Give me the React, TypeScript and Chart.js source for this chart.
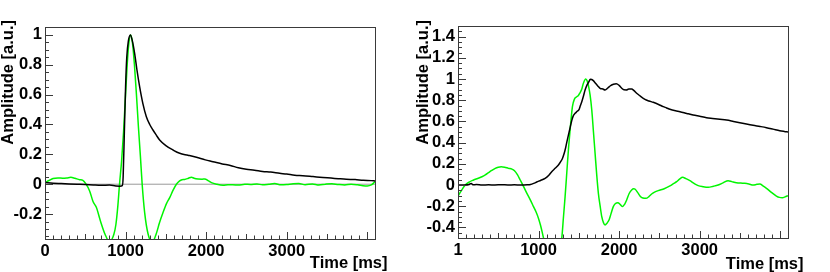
import React, { useEffect, useRef } from 'react';
import { Chart, registerables } from 'chart.js';

Chart.register(...registerables);

// ---------- Data (left panel) ----------
const LEFT_BLACK_T = [0, 100, 200, 300, 400, 500, 600, 700, 800, 880, 930, 960, 970, 985, 1000, 1015, 1035, 1060, 1080, 1113, 1140, 1175, 1215, 1258, 1300, 1340, 1380, 1423, 1500, 1589, 1672, 1775, 1880, 1990, 2085, 2200, 2300, 2400, 2499, 2600, 2700, 2800, 2913, 3000, 3100, 3200, 3326, 3450, 3550, 3640, 3740, 3850, 3950, 4050, 4096];
const LEFT_BLACK_V = [0.011, 0.006, 0.004, 0.002, 0.0, -0.002, -0.005, -0.007, -0.006, -0.012, -0.013, -0.01, 0.05, 0.35, 0.65, 0.85, 0.96, 1.0, 0.97, 0.875, 0.77, 0.652, 0.54, 0.452, 0.4, 0.363, 0.33, 0.296, 0.258, 0.229, 0.207, 0.194, 0.18, 0.163, 0.151, 0.136, 0.126, 0.11, 0.1, 0.094, 0.085, 0.081, 0.073, 0.068, 0.06, 0.057, 0.051, 0.045, 0.041, 0.037, 0.033, 0.031, 0.026, 0.024, 0.022];

const LEFT_GREEN_T = [0, 50, 100, 160, 220, 270, 320, 370, 430, 470, 510, 554, 596, 637, 690, 745, 800, 855, 880, 905, 925, 950, 975, 1000, 1020, 1040, 1062, 1085, 1110, 1135, 1160, 1185, 1206, 1237, 1278, 1330, 1382, 1420, 1465, 1508, 1548, 1590, 1631, 1671, 1700, 1733, 1780, 1817, 1850, 1900, 1950, 1982, 2030, 2065, 2130, 2209, 2270, 2330, 2400, 2480, 2550, 2630, 2700, 2780, 2850, 2930, 3000, 3080, 3150, 3230, 3320, 3400, 3480, 3560, 3640, 3720, 3800, 3880, 3947, 4000, 4050, 4096];
const LEFT_GREEN_V = [0.011, 0.025, 0.038, 0.042, 0.04, 0.042, 0.046, 0.04, 0.03, 0.026, 0.0, -0.045, -0.116, -0.155, -0.25, -0.335, -0.385, -0.335, -0.27, -0.14, 0.0, 0.15, 0.35, 0.6, 0.8, 0.94, 1.0, 0.95, 0.8, 0.6, 0.38, 0.18, 0.0, -0.19, -0.33, -0.39, -0.33, -0.26, -0.19, -0.13, -0.09, -0.04, 0.0, 0.022, 0.03, 0.032, 0.04, 0.047, 0.04, 0.035, 0.034, 0.035, 0.022, 0.011, 0.0, -0.007, -0.004, -0.003, -0.006, 0.0, -0.002, 0.002, -0.004, 0.0, 0.004, -0.004, -0.002, 0.003, 0.004, -0.003, 0.002, -0.005, 0.0, 0.003, -0.002, -0.005, 0.0, -0.004, -0.01, -0.012, -0.005, 0.017];

// ---------- Data (right panel) ----------
const RIGHT_BLACK_T = [1, 80, 140, 165, 185, 230, 300, 380, 460, 540, 620, 700, 780, 860, 900, 940, 978, 1030, 1082, 1125, 1164, 1210, 1247, 1275, 1297, 1315, 1330, 1350, 1371, 1392, 1413, 1430, 1454, 1480, 1504, 1520, 1537, 1558, 1578, 1600, 1619, 1645, 1660, 1680, 1702, 1735, 1764, 1800, 1826, 1860, 1888, 1930, 1965, 2000, 2030, 2060, 2090, 2120, 2156, 2185, 2218, 2260, 2321, 2370, 2424, 2490, 2548, 2590, 2631, 2700, 2755, 2840, 2919, 3000, 3085, 3160, 3250, 3333, 3420, 3498, 3580, 3663, 3750, 3829, 3910, 3994, 4050, 4096];
const RIGHT_BLACK_V = [0.0, 0.0, 0.005, 0.015, 0.003, 0.004, 0.0, 0.002, 0.0, 0.003, 0.0, 0.002, 0.0, 0.002, 0.005, 0.015, 0.028, 0.045, 0.063, 0.09, 0.126, 0.16, 0.189, 0.22, 0.25, 0.29, 0.33, 0.4, 0.47, 0.54, 0.61, 0.65, 0.676, 0.695, 0.714, 0.75, 0.786, 0.84, 0.896, 0.94, 0.965, 0.997, 0.995, 0.985, 0.965, 0.935, 0.912, 0.905, 0.896, 0.915, 0.934, 0.95, 0.955, 0.94, 0.915, 0.898, 0.897, 0.905, 0.906, 0.89, 0.865, 0.84, 0.808, 0.793, 0.78, 0.76, 0.739, 0.727, 0.714, 0.7, 0.692, 0.675, 0.66, 0.648, 0.635, 0.628, 0.62, 0.613, 0.6, 0.588, 0.575, 0.563, 0.552, 0.541, 0.527, 0.512, 0.505, 0.5];

const RIGHT_GREEN_T = [1, 45, 91, 140, 194, 245, 298, 340, 380, 420, 463, 500, 537, 580, 628, 670, 702, 740, 773, 815, 856, 898, 938, 970, 1000, 1025, 1049, 1080, 1130, 1185, 1240, 1289, 1310, 1330, 1345, 1359, 1375, 1392, 1421, 1446, 1470, 1495, 1515, 1535, 1557, 1586, 1605, 1619, 1640, 1661, 1682, 1702, 1722, 1743, 1765, 1785, 1806, 1826, 1850, 1875, 1900, 1928, 1955, 1985, 2015, 2044, 2070, 2094, 2125, 2156, 2180, 2200, 2230, 2259, 2295, 2333, 2370, 2404, 2440, 2486, 2560, 2631, 2675, 2714, 2750, 2788, 2830, 2879, 2930, 2982, 3040, 3106, 3170, 3229, 3290, 3353, 3400, 3457, 3510, 3560, 3610, 3663, 3710, 3746, 3790, 3829, 3890, 3952, 3990, 4026, 4060, 4096];
const RIGHT_GREEN_V = [-0.104, -0.05, 0.0, 0.028, 0.047, 0.062, 0.078, 0.095, 0.116, 0.137, 0.157, 0.168, 0.173, 0.168, 0.157, 0.15, 0.135, 0.095, 0.047, -0.015, -0.079, -0.14, -0.204, -0.255, -0.315, -0.38, -0.456, -0.56, -0.72, -0.78, -0.7, -0.5, -0.3, -0.11, 0.05, 0.205, 0.37, 0.52, 0.74, 0.81, 0.83, 0.845, 0.87, 0.9, 0.96, 1.0, 0.98, 0.94, 0.85, 0.708, 0.5, 0.299, 0.1, -0.079, -0.2, -0.299, -0.355, -0.377, -0.36, -0.33, -0.27, -0.204, -0.175, -0.167, -0.185, -0.203, -0.18, -0.142, -0.08, -0.047, -0.036, -0.04, -0.07, -0.104, -0.123, -0.126, -0.11, -0.085, -0.068, -0.053, -0.035, -0.009, 0.012, 0.031, 0.055, 0.072, 0.06, 0.041, 0.015, -0.006, -0.016, -0.022, -0.012, 0.0, 0.02, 0.041, 0.032, 0.022, 0.018, 0.016, 0.01, 0.0, 0.006, 0.009, -0.01, -0.031, -0.07, -0.104, -0.117, -0.12, -0.112, -0.1];

// ---------- Axes ----------
const LEFT_X_TICKS = [0, 1000, 2000, 3000];
const RIGHT_X_TICKS = [1, 1000, 2000, 3000];
const LEFT_Y_TICKS = [-0.2, 0, 0.2, 0.4, 0.6, 0.8, 1];
const RIGHT_Y_TICKS = [-0.4, -0.2, 0, 0.2, 0.4, 0.6, 0.8, 1, 1.2, 1.4];
const Y_TITLE = 'Amplitude [a.u.]';
const X_TITLE = 'Time [ms]';

const FONT_FAMILY = '"Liberation Sans", Arial, Helvetica, sans-serif';
const FONT_SIZE = 16.5;
const GREEN = 'rgb(0,245,0)';

function pts(t: number[], v: number[]) {
  return t.map((x, i) => ({ x, y: v[i] }));
}

const frameTicksPlugin = {
  id: 'frameTicks',
  afterDatasetsDraw(chart: any, _args: any, opts: any) {
    const { ctx, chartArea: a, scales } = chart;
    const xs = scales.x;
    const ys = scales.y;
    ctx.save();
    ctx.strokeStyle = '#3a3a3a';
    ctx.lineWidth = 1;
    ctx.beginPath();
    // x ticks (inward from bottom)
    const xmin = xs.min, xmax = xs.max;
    for (let k = Math.ceil(xmin / 100); k * 100 <= xmax; k++) {
      const v = k * 100;
      const len = v % 1000 === 0 ? 7 : v % 500 === 0 ? 5 : 3.5;
      const px = Math.round(xs.getPixelForValue(v)) + 0.5;
      ctx.moveTo(px, a.bottom);
      ctx.lineTo(px, a.bottom - len);
    }
    // y ticks (inward from left)
    const ymin = ys.min, ymax = ys.max;
    for (let k = Math.ceil(ymin / 0.05 - 1e-6); k * 0.05 <= ymax + 1e-9; k++) {
      const v = k * 0.05;
      const major = Math.abs(Math.round(k / 4) * 4 - k) < 1e-9;
      const len = major ? 8 : 4;
      const py = Math.round(ys.getPixelForValue(v)) + 0.5;
      ctx.moveTo(a.left, py);
      ctx.lineTo(a.left + len, py);
    }
    ctx.stroke();
    // frame
    ctx.strokeRect(a.left + 0.5, a.top + 0.5, a.right - a.left, a.bottom - a.top);
    // axis titles
    ctx.fillStyle = '#000';
    ctx.font = `bold ${FONT_SIZE}px ${FONT_FAMILY}`;
    ctx.textBaseline = 'alphabetic';
    ctx.textAlign = 'right';
    ctx.fillText(X_TITLE, opts.xTitleX, opts.xTitleY);
    ctx.translate(opts.yTitleX, opts.yTitleY);
    ctx.rotate(-Math.PI / 2);
    ctx.textAlign = 'right';
    ctx.fillText(Y_TITLE, 0, 0);
    ctx.restore();
  },
};

type PanelProps = {
  left: number;
  blackT: number[];
  blackV: number[];
  greenT: number[];
  greenV: number[];
  xMin: number;
  xMax: number;
  yMin: number;
  yMax: number;
  xTicks: number[];
  yTicks: number[];
  zeroLine: boolean;
  padTop: number;
  padRight: number;
  yWidth: number;
  xHeight: number;
  xTitleX: number;
  xTitleY: number;
};

function Panel(p: PanelProps) {
  const ref = useRef<HTMLCanvasElement | null>(null);
  useEffect(() => {
    if (!ref.current) return;
    const tickFont = { family: FONT_FAMILY, size: FONT_SIZE, weight: 'bold' as const };
    const datasets: any[] = [
      {
        data: pts(p.blackT, p.blackV),
        borderColor: '#000',
        borderWidth: 1.5,
        pointRadius: 0,
        cubicInterpolationMode: 'monotone',
        clip: 0,
      },
      {
        data: pts(p.greenT, p.greenV),
        borderColor: GREEN,
        borderWidth: 1.5,
        pointRadius: 0,
        cubicInterpolationMode: 'monotone',
        clip: 0,
      },
    ];
    if (p.zeroLine) {
      datasets.push({
        data: [
          { x: p.xMin, y: 0 },
          { x: p.xMax, y: 0 },
        ],
        borderColor: '#999',
        borderWidth: 1,
        pointRadius: 0,
        clip: 0,
      });
    }
    const chart = new Chart(ref.current, {
      type: 'line',
      data: { datasets },
      plugins: [frameTicksPlugin],
      options: {
        responsive: false,
        animation: false,
        devicePixelRatio: 1,
        layout: { padding: { top: p.padTop, right: p.padRight, left: 0, bottom: 0 } },
        plugins: {
          legend: { display: false },
          tooltip: { enabled: false },
          frameTicks: { xTitleX: p.xTitleX, xTitleY: p.xTitleY, yTitleX: 12.5, yTitleY: 20 },
        } as any,
        scales: {
          x: {
            type: 'linear',
            min: p.xMin,
            max: p.xMax,
            grid: { display: false, drawTicks: false },
            border: { display: false },
            ticks: {
              font: tickFont,
              color: '#000',
              padding: 3,
              maxRotation: 0,
              autoSkip: false,
              callback: (v: any) => String(v),
            },
            afterBuildTicks: (s: any) => {
              s.ticks = p.xTicks.map((value) => ({ value }));
            },
            afterFit: (s: any) => {
              s.height = p.xHeight;
            },
          },
          y: {
            type: 'linear',
            min: p.yMin,
            max: p.yMax,
            grid: { display: false, drawTicks: false },
            border: { display: false },
            ticks: {
              font: tickFont,
              color: '#000',
              padding: 3,
              autoSkip: false,
              callback: (v: any) => String(Math.round(Number(v) * 10) / 10),
            },
            afterBuildTicks: (s: any) => {
              s.ticks = p.yTicks.map((value) => ({ value }));
            },
            afterFit: (s: any) => {
              s.width = p.yWidth;
            },
          },
        },
      } as any,
    });
    return () => chart.destroy();
  }, []);
  return (
    <canvas
      ref={ref}
      width={415}
      height={272}
      style={{ position: 'absolute', left: p.left, top: 0, width: 415, height: 272, display: 'block' }}
    />
  );
}

export default function App() {
  return (
    <div style={{ position: 'fixed', left: 0, top: 0, width: 830, height: 272, background: '#fff', overflow: 'hidden' }}>
      <Panel
        left={0}
        blackT={LEFT_BLACK_T}
        blackV={LEFT_BLACK_V}
        greenT={LEFT_GREEN_T}
        greenV={LEFT_GREEN_V}
        xMin={0}
        xMax={4096}
        yMin={-0.367}
        yMax={1.053}
        xTicks={LEFT_X_TICKS}
        yTicks={LEFT_Y_TICKS}
        zeroLine={true}
        padTop={27}
        padRight={40}
        yWidth={45}
        xHeight={33}
        xTitleX={387.5}
        xTitleY={268}
      />
      <Panel
        left={415}
        blackT={RIGHT_BLACK_T}
        blackV={RIGHT_BLACK_V}
        greenT={RIGHT_GREEN_T}
        greenV={RIGHT_GREEN_V}
        xMin={1}
        xMax={4096}
        yMin={-0.5}
        yMax={1.5}
        xTicks={RIGHT_X_TICKS}
        yTicks={RIGHT_Y_TICKS}
        zeroLine={false}
        padTop={26}
        padRight={42}
        yWidth={43}
        xHeight={34}
        xTitleX={388.5}
        xTitleY={268.5}
      />
    </div>
  );
}
